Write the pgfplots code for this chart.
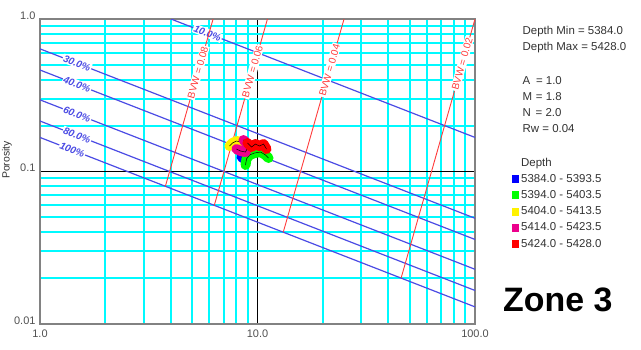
\documentclass[border=0pt]{standalone}
\usepackage{fontspec}
\setmainfont{Liberation Sans}
\usepackage{pgfplots}
\pgfplotsset{compat=1.18}
\definecolor{swblue}{RGB}{75,75,228}
\definecolor{bvwred}{RGB}{255,60,60}
\definecolor{gridcyan}{RGB}{0,250,255}
\definecolor{ticktext}{RGB}{80,80,80}
\definecolor{framegray}{RGB}{130,130,130}
\definecolor{txtgray}{RGB}{50,50,50}
\newcommand{\swfont}{\fontsize{10}{12}\selectfont\bfseries\itshape}
\newcommand{\bvwfont}{\fontsize{10}{12}\selectfont}
\newcommand{\rfont}{\fontsize{11.5}{13}\selectfont}
\begin{document}
\begin{tikzpicture}
\useasboundingbox (-40bp,-26bp) rectangle (601bp,324bp);
\begin{axis}[
  at={(0,0)}, anchor=south west,
  scale only axis, width=435bp, height=305bp,
  xmode=log, ymode=log,
  xmin=1, xmax=100, ymin=0.01, ymax=1,
  xtick={1,10,100}, xticklabels={1.0,10.0,100.0},
  ytick={0.01,0.1,1}, yticklabels={0.01,0.1,1.0},
  minor xtick={2,3,4,5,6,7,8,9,20,30,40,50,60,70,80,90},
  minor ytick={0.02,0.03,0.04,0.05,0.06,0.07,0.08,0.09,0.2,0.3,0.4,0.5,0.6,0.7,0.8,0.9},
  grid=both,
  every axis grid/.style={},
  major grid style={draw=black, line width=0.9bp},
  minor grid style={draw=gridcyan, line width=2bp},
  major tick length=0pt, minor tick length=0pt,
  axis line style={framegray, line width=1.5bp},
  /pgf/number format/assume math mode=true,
  tick label style={font=\fontsize{11}{13}\selectfont, text=ticktext},
  yticklabel style={anchor=base east, xshift=-1bp},
  xticklabel style={yshift=-2bp},
  ylabel={Porosity},
  ylabel style={at={(axis description cs:-0.076,0.538)}, anchor=center, font=\fontsize{10.5}{12}\selectfont, text=txtgray},
  legend style={at={(axis description cs:1.0851,0.548)}, anchor=north west, draw=none, fill=none,
    font=\rfont, text=txtgray, inner sep=0pt, row sep=4.2bp,
    nodes={inner sep=0.5bp, text height=8.5bp, text depth=2.5bp},
    /tikz/every odd column/.style={column sep=1.5bp}},
  legend cell align=left,
  legend image code/.code={\fill[#1, draw=none] (0bp,-4bp) rectangle (7bp,4bp);},
]
% Sw lines (Archie, a=1, m=1.8, n=2, Rw=0.04)
\addplot[swblue, line width=1.2bp, forget plot] coordinates {(1,0.16725) (100,0.012949)}
  node[pos=0.074, sloped, fill=white, inner sep=1bp, text=swblue, font=\swfont] {100\%};
\addplot[swblue, line width=1.2bp, forget plot] coordinates {(1,0.21431) (100,0.016593)}
  node[pos=0.085, sloped, fill=white, inner sep=1bp, text=swblue, font=\swfont] {80.0\%};
\addplot[swblue, line width=1.2bp, forget plot] coordinates {(1,0.29504) (100,0.022844)}
  node[pos=0.085, sloped, fill=white, inner sep=1bp, text=swblue, font=\swfont] {60.0\%};
\addplot[swblue, line width=1.2bp, forget plot] coordinates {(1,0.46294) (100,0.035844)}
  node[pos=0.085, sloped, fill=white, inner sep=1bp, text=swblue, font=\swfont] {40.0\%};
\addplot[swblue, line width=1.2bp, forget plot] coordinates {(1,0.63728) (100,0.049342)}
  node[pos=0.085, sloped, fill=white, inner sep=1bp, text=swblue, font=\swfont] {30.0\%};
\addplot[swblue, line width=1.2bp, forget plot] coordinates {(4,1) (100,0.167249)}
  node[pos=0.12, sloped, fill=white, inner sep=1bp, text=swblue, font=\swfont] {10.0\%};
% BVW lines
\addplot[bvwred, line width=0.9bp, forget plot] coordinates {(3.7714,0.08) (6.25,1)}
  node[pos=0.68, sloped, fill=white, inner sep=1bp, text=bvwred, font=\bvwfont] {BVW = 0.08};
\addplot[bvwred, line width=0.9bp, forget plot] coordinates {(6.3300,0.06) (11.111,1)}
  node[pos=0.717, sloped, fill=white, inner sep=1bp, text=bvwred, font=\bvwfont] {BVW = 0.06};
\addplot[bvwred, line width=0.9bp, forget plot] coordinates {(13.133,0.04) (25,1)}
  node[pos=0.76, sloped, fill=white, inner sep=1bp, text=bvwred, font=\bvwfont] {BVW = 0.04};
\addplot[bvwred, line width=0.9bp, forget plot] coordinates {(45.730,0.02) (100,1)}
  node[pos=0.826, sloped, fill=white, inner sep=1bp, text=bvwred, font=\bvwfont] {BVW = 0.02};
% legend title
\addlegendimage{empty legend}
\addlegendentry{Depth}
% data
\addplot[blue, line width=10bp, line cap=round, line join=round] coordinates {(8.44,0.1245) (8.71,0.1208) (8.90,0.1264)};
\addlegendentry{5384.0 - 5393.5}
\addplot[black, line width=0.5bp, forget plot] coordinates {(8.44,0.1245) (8.71,0.1208) (8.90,0.1264)};
\addplot[green, line width=10bp, line cap=round, line join=round] coordinates {(8.81,0.1103) (8.90,0.1208) (9.19,0.1283) (9.69,0.1322) (10.32,0.1342) (10.89,0.1283) (11.24,0.1226)};
\addlegendentry{5394.0 - 5403.5}
\addplot[black, line width=0.5bp, forget plot] coordinates {(8.81,0.1103) (8.90,0.1208) (9.19,0.1283) (9.69,0.1322) (10.32,0.1342) (10.89,0.1283) (11.24,0.1226)};
\addplot[yellow, line width=10bp, line cap=round, line join=round] coordinates {(7.43,0.1469) (7.67,0.1537) (8.00,0.1585) (8.35,0.1561) (8.44,0.1514)};
\addlegendentry{5404.0 - 5413.5}
\addplot[black, line width=0.5bp, forget plot] coordinates {(7.43,0.1469) (7.67,0.1537) (8.00,0.1585) (8.35,0.1561) (8.44,0.1514)};
\addplot[magenta, line width=10bp, line cap=round, line join=round] coordinates {(8.00,0.1404) (8.35,0.1363) (8.81,0.1342) (8.99,0.1426) (8.90,0.1537) (8.62,0.1609)};
\addlegendentry{5414.0 - 5423.5}
\addplot[black, line width=0.5bp, forget plot] coordinates {(8.00,0.1404) (8.35,0.1363) (8.81,0.1342) (8.99,0.1426) (8.90,0.1537) (8.62,0.1609)};
\addplot[red, line width=10bp, line cap=round, line join=round] coordinates {(8.99,0.1537) (9.38,0.1447) (9.79,0.1514) (10.21,0.1469) (10.66,0.1514) (11.00,0.1404)};
\addlegendentry{5424.0 - 5428.0}
\addplot[black, line width=0.5bp, forget plot] coordinates {(8.99,0.1537) (9.38,0.1447) (9.79,0.1514) (10.21,0.1469) (10.66,0.1514) (11.00,0.1404)};
\end{axis}
% side annotations
\node[anchor=base west, font=\rfont, text=txtgray, inner sep=0pt] at (482.5bp,289bp) {Depth Min = 5384.0};
\node[anchor=base west, font=\rfont, text=txtgray, inner sep=0pt] at (482.5bp,273bp) {Depth Max = 5428.0};
\node[anchor=base west, font=\rfont, text=txtgray, inner sep=0pt] at (482.5bp,239bp) {A\hspace{2.5bp} = 1.0};
\node[anchor=base west, font=\rfont, text=txtgray, inner sep=0pt] at (482.5bp,223bp) {M\hspace{0.5bp} = 1.8};
\node[anchor=base west, font=\rfont, text=txtgray, inner sep=0pt] at (482.5bp,207bp) {N\hspace{1.5bp} = 2.0};
\node[anchor=base west, font=\rfont, text=txtgray, inner sep=0pt] at (482.5bp,191bp) {Rw = 0.04};
\node[anchor=base west, font=\fontsize{34}{38}\selectfont\bfseries, text=black, inner sep=0pt] at (463bp,12.3bp) {Zone 3};
\end{tikzpicture}
\end{document}
